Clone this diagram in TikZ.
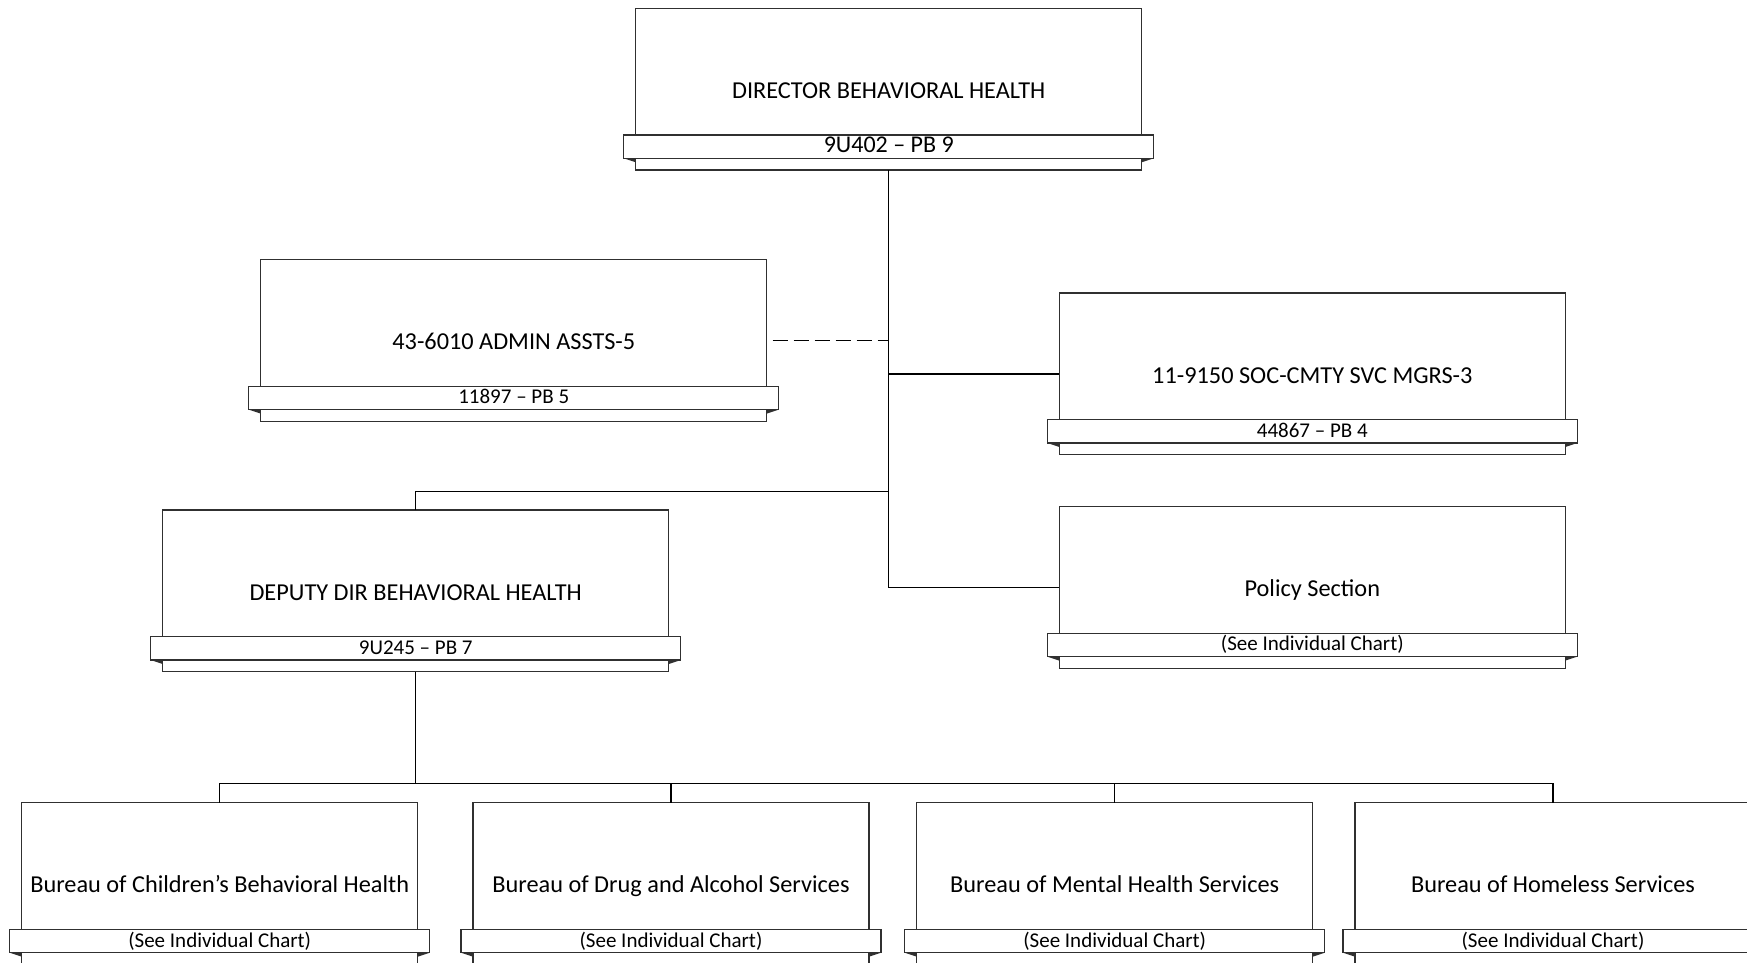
\documentclass[tikz,border=0pt]{standalone}
\usepackage{fontspec}
\setmainfont{Carlito}
\usetikzlibrary{calc}
\definecolor{boxline}{HTML}{303030}
\tikzset{
  mainbox/.style={draw=boxline, fill=white, line width=1.1pt, minimum height=161.7pt, inner sep=0pt, outer sep=0pt},
  bannerbox/.style={draw=boxline, fill=white, line width=1.1pt, minimum height=23.3pt, inner sep=0pt, outer sep=0pt},
  maintext/.style={font=\fontsize{24.3}{28}\selectfont, inner sep=0pt, text=black},
  bannertext/.style={inner sep=0pt, text=black},
  conn/.style={draw=black, line width=1.5pt},
  dashconn/.style={draw=black, line width=1.5pt, dash pattern=on 15pt off 6pt, dash phase=15pt}
}
\newcommand{\orgbox}[7]{%
  \node[mainbox, minimum width=#4pt, anchor=north west] (#1) at (#2,#3) {};
  \node[bannerbox, minimum width=#4pt+24pt, anchor=north] (#1b) at ([yshift=-126.7pt]#1.north) {};
  \fill[boxline] (#1b.south west) -- ++(12,0) -- ++(0,4) -- cycle;
  \fill[boxline] (#1b.south east) -- ++(-12,0) -- ++(0,4) -- cycle;
  \node[maintext, anchor=base] (#1t) at ([yshift=-90pt]#1.north) {#5};
  \node[bannertext, font=\fontsize{#7}{#7}\selectfont, anchor=base] (#1bt) at ([yshift=-144.3pt]#1.north) {#6};
}
\begin{document}
\begin{tikzpicture}[x=1pt, y=-1pt]
\clip (0,0) rectangle (1747,962);
\fill[white] (0,0) rectangle (1747,962);

% connectors first
\coordinate (dirbot) at (888.7,170);
\coordinate (depjoin) at (888.7,491.7);
\coordinate (policyjoin) at (888.7,587.7);

\orgbox{dir}{635.7}{8.3}{506}{DIRECTOR BEHAVIORAL HEALTH}{9U402 – PB 9}{24}
\orgbox{adm}{260.7}{259.6}{506}{43-6010 ADMIN ASSTS-5}{11897 – PB 5}{21}
\orgbox{soc}{1059.3}{293}{506}{11-9150 SOC-CMTY SVC MGRS-3}{44867 – PB 4}{21}
\orgbox{dep}{162.7}{510}{506}{DEPUTY DIR BEHAVIORAL HEALTH}{9U245 – PB 7}{21}
\orgbox{pol}{1059.3}{506.6}{506}{Policy Section}{(See Individual Chart)}{21}
\orgbox{bu1}{21.7}{802.7}{396}{Bureau of Children’s Behavioral Health}{(See Individual Chart)}{21}
\orgbox{bu2}{473}{802.7}{396}{Bureau of Drug and Alcohol Services}{(See Individual Chart)}{21}
\orgbox{bu3}{916.7}{802.7}{396}{Bureau of Mental Health Services}{(See Individual Chart)}{21}
\orgbox{bu4}{1355}{802.7}{396}{Bureau of Homeless Services}{(See Individual Chart)}{21}

% trunk from director
\draw[conn] (dir.south) |- (pol.west);
\draw[conn] (dir.south |- soc.west) -- (soc.west);
\draw[dashconn] (adm.east) -- (adm.east -| dir.south);
\draw[conn] (dep.north) |- (dir.south |- depjoin);

% deputy to bureaus
\draw[conn] (dep.south) -- ++(0,112);
\draw[conn] (bu1.north) -- ++(0,-19) -| (bu4.north);
\draw[conn] (bu2.north) -- ++(0,-19);
\draw[conn] (bu3.north) -- ++(0,-19);
\end{tikzpicture}
\end{document}
